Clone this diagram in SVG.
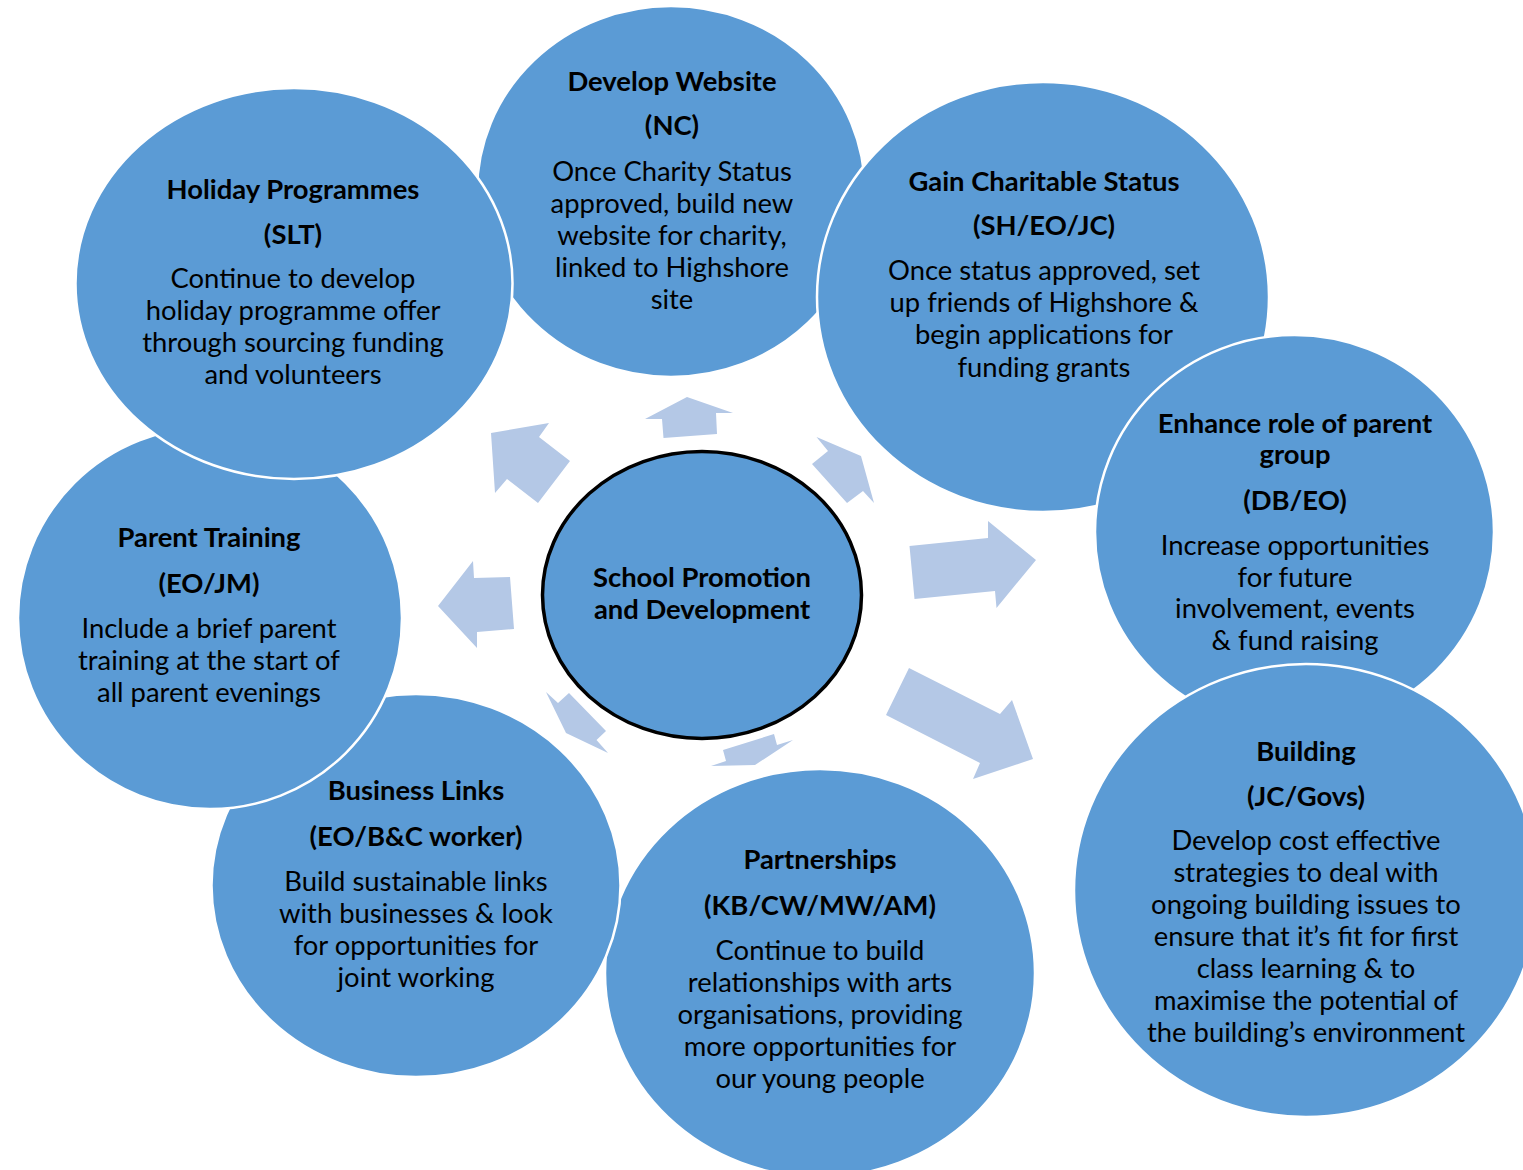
<svg xmlns="http://www.w3.org/2000/svg" width="1523" height="1170" viewBox="0 0 1523 1170">
<style>
.c{fill:#5B9BD5;stroke:#FFFFFF;stroke-width:2.5}
.t{font-family:Lato,"Liberation Sans",sans-serif;font-size:27.4px;fill:#000;text-anchor:middle}
.b{font-weight:bold}
.a{fill:#B4C8E6;stroke:none}
</style>
<rect width="1523" height="1170" fill="#FFFFFF"/>
<g id="nodes">
<g id="partnerships">
<ellipse class="c" cx="820" cy="973" rx="215" ry="204"/>
<text class="t b" x="820" y="869">Partnerships</text>
<text class="t b" x="820" y="915">(KB/CW/MW/AM)</text>
<text class="t" x="820" y="960">Continue to build</text>
<text class="t" x="820" y="992">relationships with arts</text>
<text class="t" x="820" y="1024">organisations, providing</text>
<text class="t" x="820" y="1056">more opportunities for</text>
<text class="t" x="820" y="1088">our young people</text>
</g>
<g id="business-links">
<ellipse class="c" cx="416" cy="885.5" rx="204.5" ry="191.5"/>
<text class="t b" x="416" y="800">Business Links</text>
<text class="t b" x="416" y="846">(EO/B&amp;C worker)</text>
<text class="t" x="416" y="891">Build sustainable links</text>
<text class="t" x="416" y="923">with businesses &amp; look</text>
<text class="t" x="416" y="955">for opportunities for</text>
<text class="t" x="416" y="987">joint working</text>
</g>
<g id="parent-training">
<ellipse class="c" cx="210" cy="618" rx="192" ry="191"/>
<text class="t b" x="209" y="547">Parent Training</text>
<text class="t b" x="209" y="593">(EO/JM)</text>
<text class="t" x="209" y="638">Include a brief parent</text>
<text class="t" x="209" y="670">training at the start of</text>
<text class="t" x="209" y="702">all parent evenings</text>
</g>
<g id="develop-website">
<ellipse class="c" cx="671" cy="191.5" rx="194" ry="185.5"/>
<text class="t b" x="672" y="91">Develop Website</text>
<text class="t b" x="672" y="135">(NC)</text>
<text class="t" x="672" y="181">Once Charity Status</text>
<text class="t" x="672" y="213">approved, build new</text>
<text class="t" x="672" y="245">website for charity,</text>
<text class="t" x="672" y="277">linked to Highshore</text>
<text class="t" x="672" y="309">site</text>
</g>
<g id="holiday-programmes">
<ellipse class="c" cx="294" cy="283.5" rx="218.5" ry="195.5"/>
<text class="t b" x="293" y="199">Holiday Programmes</text>
<text class="t b" x="293" y="244">(SLT)</text>
<text class="t" x="293" y="288">Continue to develop</text>
<text class="t" x="293" y="320">holiday programme offer</text>
<text class="t" x="293" y="352">through sourcing funding</text>
<text class="t" x="293" y="384">and volunteers</text>
</g>
<g id="gain-charitable-status">
<ellipse class="c" cx="1043" cy="297" rx="226" ry="215"/>
<text class="t b" x="1044" y="191">Gain Charitable Status</text>
<text class="t b" x="1044" y="235">(SH/EO/JC)</text>
<text class="t" x="1044" y="280">Once status approved, set</text>
<text class="t" x="1044" y="312">up friends of Highshore &amp;</text>
<text class="t" x="1044" y="344">begin applications for</text>
<text class="t" x="1044" y="377">funding grants</text>
</g>
<g id="enhance-parent-group">
<ellipse class="c" cx="1294.5" cy="532" rx="199.5" ry="197"/>
<text class="t b" x="1295" y="433">Enhance role of parent</text>
<text class="t b" x="1295" y="464">group</text>
<text class="t b" x="1295" y="510">(DB/EO)</text>
<text class="t" x="1295" y="555">Increase opportunities</text>
<text class="t" x="1295" y="587">for future</text>
<text class="t" x="1295" y="618">involvement, events</text>
<text class="t" x="1295" y="650">&amp; fund raising</text>
</g>
<g id="building">
<ellipse class="c" cx="1306" cy="890.5" rx="232" ry="226.5"/>
<text class="t b" x="1306" y="761">Building</text>
<text class="t b" x="1306" y="806">(JC/Govs)</text>
<text class="t" x="1306" y="850">Develop cost effective</text>
<text class="t" x="1306" y="882">strategies to deal with</text>
<text class="t" x="1306" y="914">ongoing building issues to</text>
<text class="t" x="1306" y="946">ensure that it’s fit for first</text>
<text class="t" x="1306" y="978">class learning &amp; to</text>
<text class="t" x="1306" y="1010">maximise the potential of</text>
<text class="t" x="1306" y="1042">the building’s environment</text>
</g>
<g id="school-promotion">
<ellipse cx="702" cy="595" rx="159.5" ry="143.5" fill="#5B9BD5" stroke="#000" stroke-width="3.5"/>
<text class="t b" x="702" y="587">School Promotion</text>
<text class="t b" x="702" y="619">and Development</text>
</g>
</g>
<g id="connectors">
<polygon class="a" points="687,397 733,413 716,413 717,434 663.5,438 662,419 645,419"/>
<polygon class="a" points="491,433 549,423 539,437 570,461 538,503 507,479 495,493"/>
<polygon class="a" points="861,456 874,503 863,491 847,503 812,464 828,451 816.5,437"/>
<polygon class="a" points="1036,560 996.5,608 995,591 914.5,599 909.5,546 988,538 988,521"/>
<polygon class="a" points="1033,759 973,779 980,763 886,715 909,668 1000,714 1012,700"/>
<polygon class="a" points="723,750 774,734 777,745 793,740 755,765 711,766 726,761"/>
<polygon class="a" points="546,692 558,703 569,693 606,731 596.5,740 608,753 566,733"/>
<polygon class="a" points="438,606 473,561 474,578 510,577 514,629 477,632 477,648"/>
</g>
</svg>
